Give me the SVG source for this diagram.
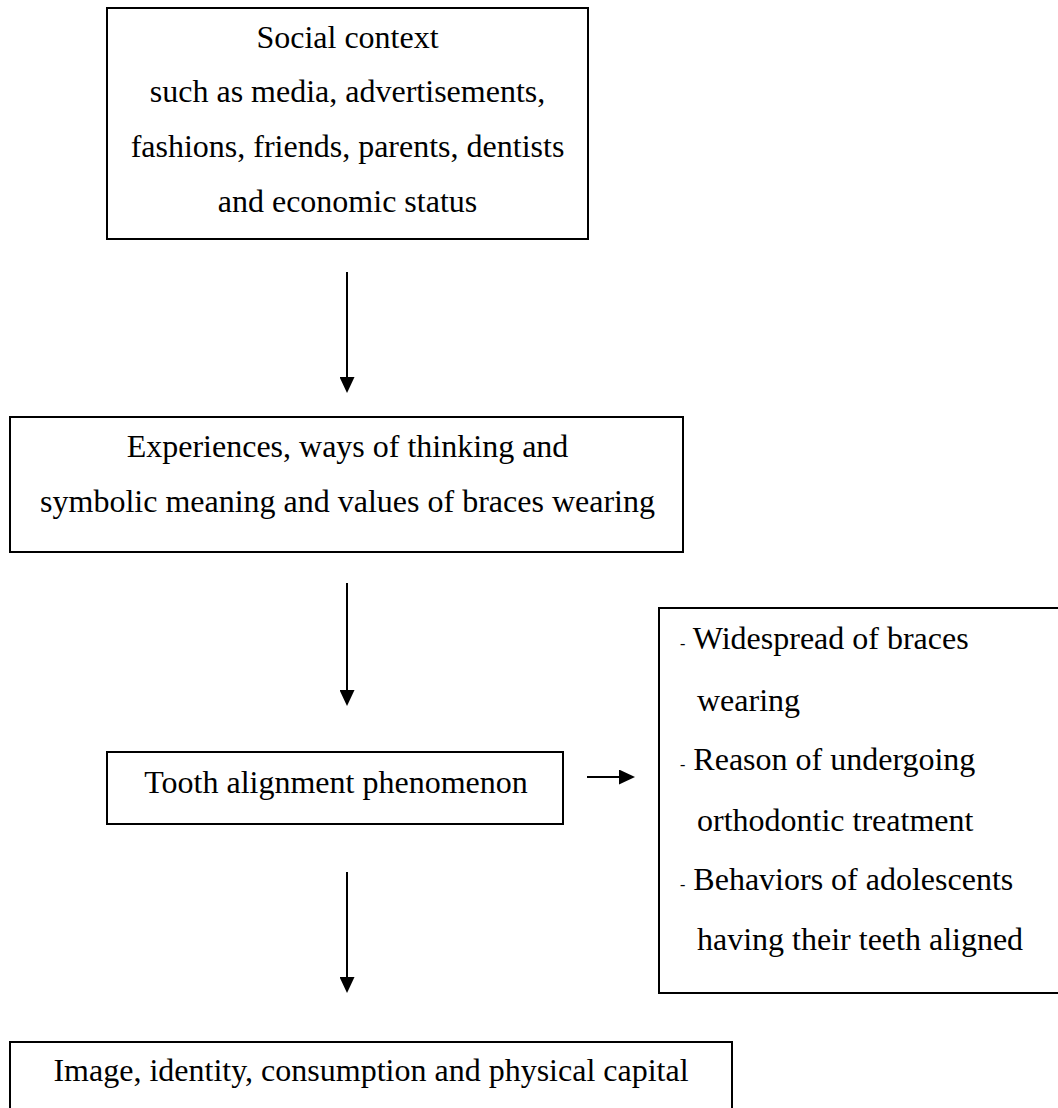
<svg xmlns="http://www.w3.org/2000/svg" width="1058" height="1108" viewBox="0 0 1058 1108">
<defs>
<style>
.box{fill:#fff;stroke:#000;stroke-width:2}
.t{font-family:"Liberation Serif","Times New Roman",serif;font-size:32px;fill:#000}
.c{text-anchor:middle}
.d{font-size:16px}
.ln{stroke:#000;stroke-width:2;fill:none}
</style>
<marker id="ah" markerUnits="userSpaceOnUse" markerWidth="16" markerHeight="15" refX="8" refY="7.5" orient="auto">
<path d="M0,0 L16,7.5 L0,15 z" fill="#000"/>
</marker>
</defs>
<rect width="1058" height="1108" fill="#fff"/>
<g id="social-context">
<rect class="box" x="107" y="8" width="481" height="231"/>
<text class="t c" x="347.5" y="48">Social context</text>
<text class="t c" x="347.5" y="102">such as media, advertisements,</text>
<text class="t c" x="347.5" y="157">fashions, friends, parents, dentists</text>
<text class="t c" x="347.5" y="212">and economic status</text>
</g>
<g id="experiences">
<rect class="box" x="10" y="417" width="673" height="135"/>
<text class="t c" x="347.5" y="457">Experiences, ways of thinking and</text>
<text class="t c" x="347.5" y="512">symbolic meaning and values of braces wearing</text>
</g>
<g id="tooth-alignment">
<rect class="box" x="107" y="752" width="456" height="72"/>
<text class="t c" x="336" y="793">Tooth alignment phenomenon</text>
</g>
<g id="aspects">
<rect class="box" x="659" y="608" width="420" height="385"/>
<text class="t" x="680" y="649"><tspan class="d">-</tspan> Widespread of braces</text>
<text class="t" x="697" y="711">wearing</text>
<text class="t" x="680" y="770"><tspan class="d">-</tspan> Reason of undergoing</text>
<text class="t" x="697" y="831">orthodontic treatment</text>
<text class="t" x="680" y="890"><tspan class="d">-</tspan> Behaviors of adolescents</text>
<text class="t" x="697" y="950">having their teeth aligned</text>
</g>
<g id="image-identity">
<rect class="box" x="10" y="1042" width="722" height="100"/>
<text class="t c" x="371" y="1081">Image, identity, consumption and physical capital</text>
</g>
<g id="connectors">
<line class="ln" x1="347" y1="272" x2="347" y2="385" marker-end="url(#ah)"/>
<line class="ln" x1="347" y1="583" x2="347" y2="698" marker-end="url(#ah)"/>
<line class="ln" x1="347" y1="872" x2="347" y2="985" marker-end="url(#ah)"/>
<line class="ln" x1="587" y1="777" x2="627" y2="777" marker-end="url(#ah)"/>
</g>
</svg>
